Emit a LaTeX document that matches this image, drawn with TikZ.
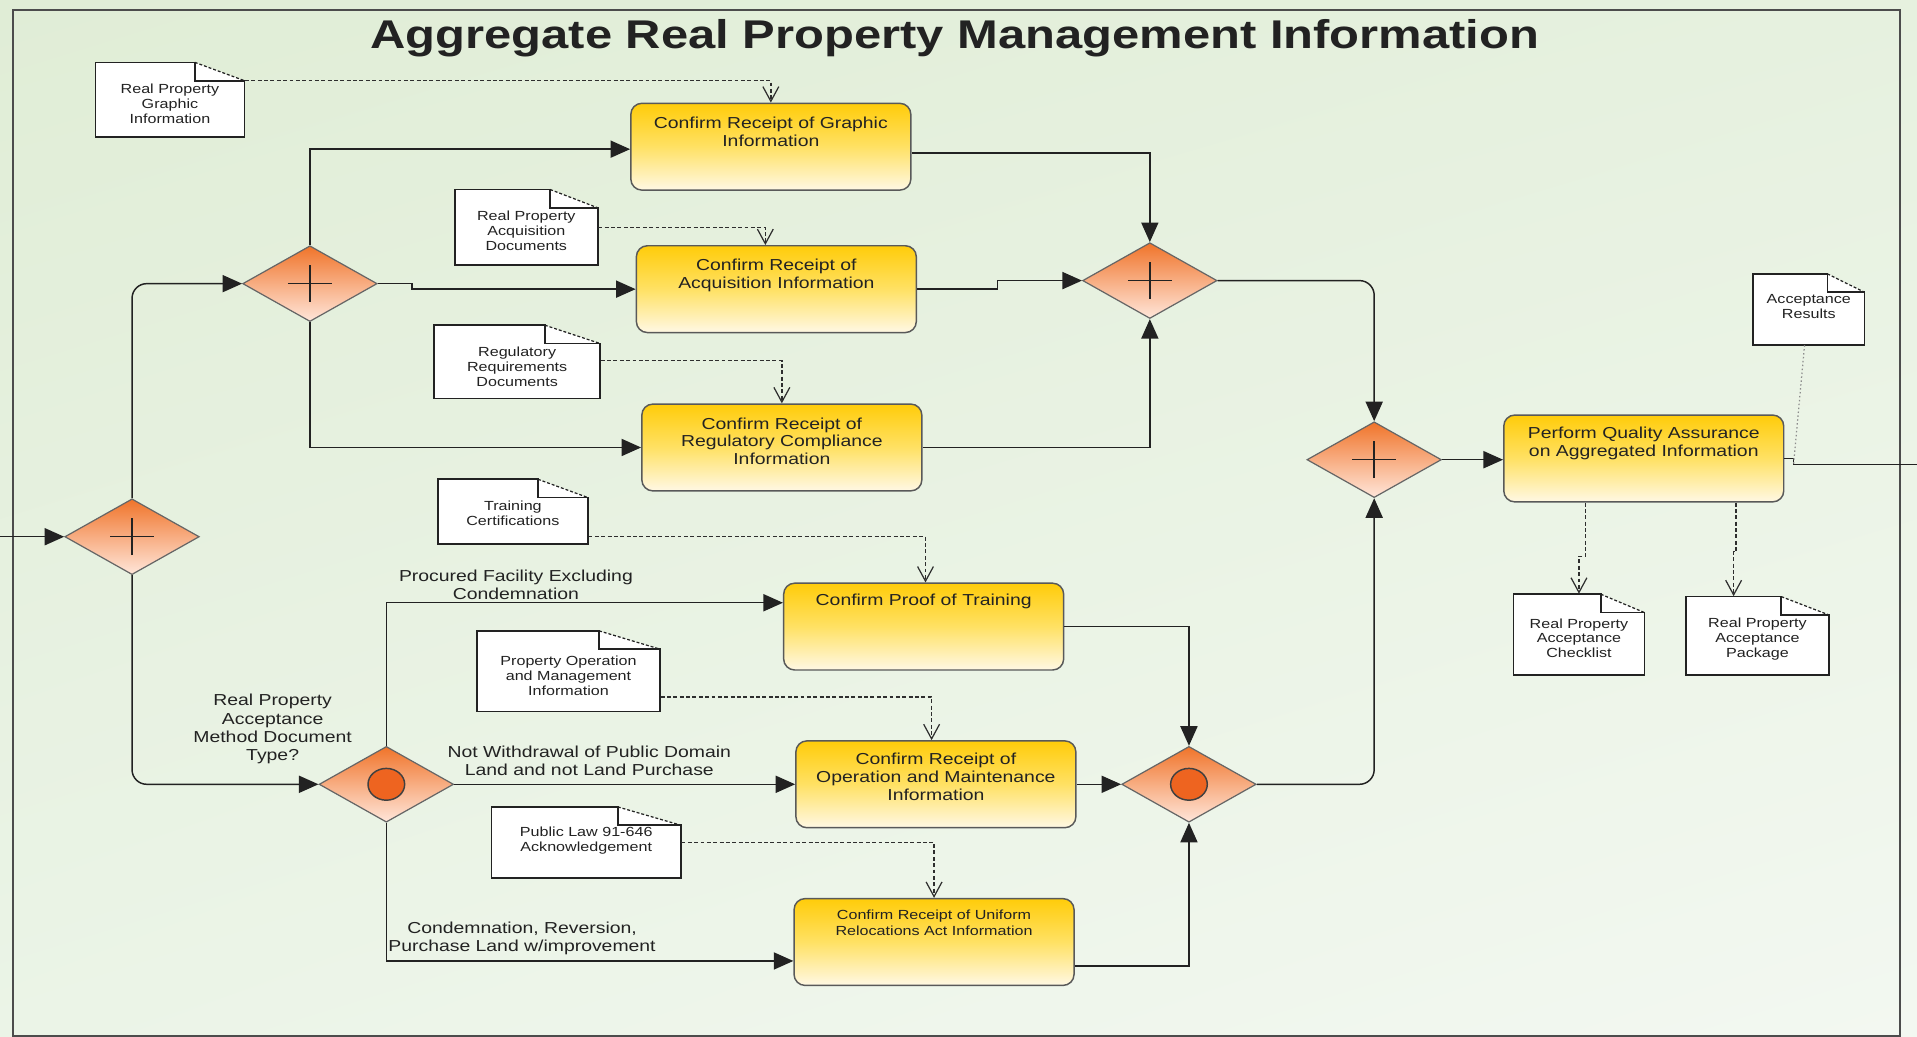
\documentclass[tikz,border=0pt]{standalone}
\usepackage{fontspec}
\setmainfont{Liberation Sans}[FakeStretch=1.22]
\usetikzlibrary{arrows.meta,shapes.geometric,calc,shadings}

\definecolor{bgA}{HTML}{E0EDD6}
\definecolor{bgB}{HTML}{E6F1DF}
\definecolor{bgC}{HTML}{EBF4E7}
\definecolor{bgD}{HTML}{F3F8F1}
\definecolor{taskTop}{HTML}{FFCC0A}
\definecolor{taskMid}{HTML}{FFE164}
\definecolor{taskBot}{HTML}{FFF8E4}
\definecolor{gateTop}{HTML}{F0742A}
\definecolor{gateBot}{HTML}{FFE6DA}
\definecolor{circFill}{HTML}{EE6420}
\definecolor{inkDark}{HTML}{222222}

% document symbol with folded top-right corner:
% #1 name, #2 x1, #3 y1, #4 x2, #5 y2, #6 text shift, #7 text
\newcommand\docnode[7]{%
  \pgfmathsetmacro\dfx{#4-(#4-#2)/3}%
  \pgfmathsetmacro\dfy{#3+15}%
  \fill[white] (#2,#3) -- (\dfx,#3) -- (#4,\dfy) -- (#4,#5) -- (#2,#5) -- cycle;
  \draw[docedge] (\dfx,#3) -- (#2,#3) -- (#2,#5) -- (#4,#5) -- (#4,\dfy) -- (\dfx,\dfy) -- cycle;
  \draw[foldedge] (\dfx,#3) -- (#4,\dfy);
  \node[docbox, minimum width={(#4-#2)*0.5pt}, minimum height={(#5-#3)*0.5pt},
        label={[doctext, yshift=#6]center:{#7}}] (#1) at ({(#2+#4)/2},{(#3+#5)/2}) {};
}

\begin{document}
\begin{tikzpicture}[x=0.5pt,y=-0.5pt,
  flow/.style={draw=inkDark, line width=0.6pt, -{Triangle[length=8pt,width=7pt]}},
  plain/.style={draw=inkDark, line width=0.6pt},
  assoc/.style={draw=black!82, line width=0.6pt, dash pattern=on 1.6pt off 1pt,
     -{Straight Barb[length=6pt,width=6.5pt,line width=0.5pt]}},
  task/.style={rectangle, rounded corners=4.5pt, draw=black!65, line width=0.6pt,
     top color=taskTop, bottom color=taskBot, middle color=taskMid,
     minimum width=114.5pt, minimum height=35.5pt, inner sep=0pt},
  tasklbl/.style={anchor=north, yshift=-5.6pt, inner sep=0pt, align=center,
     font=\fontsize{6.5}{7.3}\selectfont, text=inkDark},
  gate/.style={diamond, aspect=1.77, draw=black!60, line width=0.5pt,
     top color=gateTop, bottom color=gateBot,
     minimum width=55pt, minimum height=31pt, inner sep=0pt},
  plusgate/.style={gate, path picture={
     \draw[line width=0.6pt, inkDark]
       ([xshift=-9pt]path picture bounding box.center) -- ([xshift=9pt]path picture bounding box.center)
       ([yshift=-7.5pt]path picture bounding box.center) -- ([yshift=7.5pt]path picture bounding box.center);}},
  circgate/.style={gate, path picture={
     \draw[line width=0.6pt, draw=black!75, fill=circFill]
       (path picture bounding box.center) ellipse [x radius=7.5pt, y radius=6.5pt];}},
  docedge/.style={draw=inkDark, line width=0.7pt},
  foldedge/.style={draw=inkDark, line width=0.5pt, dash pattern=on 1.2pt off 0.8pt},
  docbox/.style={rectangle, draw=none, inner sep=0pt},
  doctext/.style={anchor=center, inner sep=0pt, align=center,
     font=\fontsize{5.4}{6.1}\selectfont, text=inkDark},
  elabel/.style={inner sep=0pt, align=center, font=\fontsize{6.5}{7.5}\selectfont, text=inkDark}
]
\useasboundingbox (0,0) rectangle (1568,848);

% background and frame
\shade[upper left=bgA, upper right=bgB, lower left=bgC, lower right=bgD] (0,0) rectangle (1568,848);
\draw[draw=black!70, line width=0.8pt] (11,8) rectangle (1554,847);

\node[inner sep=0pt, text=inkDark, font=\fontsize{16.4}{18}\selectfont\bfseries] (title) at (781,31)
  {Aggregate Real Property Management Information};

% data objects
\docnode{d1}{78}{51}{200}{112}{-1.75pt}{Real Property\\Graphic\\Information}
\docnode{d2}{372}{155}{489}{217}{-1.5pt}{Real Property\\Acquisition\\Documents}
\docnode{d3}{355}{266}{491}{326}{-2pt}{Regulatory\\Requirements\\Documents}
\docnode{d4}{358}{392}{481}{445}{-0.5pt}{Training\\Certifications}
\docnode{d5}{390}{516}{540}{582}{-2pt}{Property Operation\\and Management\\Information}
\docnode{d6}{402}{660}{557}{718}{0.75pt}{Public Law 91-646\\Acknowledgement}
\docnode{ar}{1434}{224}{1525}{282}{1.25pt}{Acceptance\\Results}
\docnode{dc}{1238}{486}{1345}{552}{-1.5pt}{Real Property\\Acceptance\\Checklist}
\docnode{dp}{1379}{488}{1496}{552}{-1.5pt}{Real Property\\Acceptance\\Package}

% tasks
\node[task, label={[tasklbl]north:{Confirm Receipt of Graphic\\Information}}] (t1) at (630.5,120) {};
\node[task, label={[tasklbl]north:{Confirm Receipt of\\Acquisition Information}}] (t2) at (635,236.5) {};
\node[task, label={[tasklbl]north:{Confirm Receipt of\\Regulatory Compliance\\Information}}] (t3) at (639.5,366) {};
\node[task, label={[tasklbl, yshift=1pt]north:{Confirm Proof of Training}}] (t4) at (755.5,512.5) {};
\node[task, label={[tasklbl, yshift=0.5pt]north:{Confirm Receipt of\\Operation and Maintenance\\Information}}] (t5) at (765.5,641.5) {};
\node[task, label={[tasklbl, yshift=1pt, font=\fontsize{5.4}{6.5}\selectfont]north:{Confirm Receipt of Uniform\\Relocations Act Information}}] (t6) at (764,770.5) {};
\node[task, label={[tasklbl, yshift=0.5pt]north:{Perform Quality Assurance\\on Aggregated Information}}] (tq) at (1344.5,375) {};

% gateways
\node[plusgate] (g0) at (108,439) {};
\node[plusgate] (g1) at (253.5,232) {};
\node[plusgate] (g2) at (940.5,229.5) {};
\node[plusgate] (g3) at (1124,376) {};
\node[circgate] (g4) at (316,641.5) {};
\node[circgate] (g5) at (972.5,641.5) {};

% condition labels
\node[elabel] (lb1) at (422,478.5) {Procured Facility Excluding\\Condemnation};
\node[elabel] (lb2) at (482,622.5) {Not Withdrawal of Public Domain\\Land and not Land Purchase};
\node[elabel] (lb3) at (427,767.5) {Condemnation, Reversion,\\Purchase Land w/improvement};
\node[elabel] (lb4) at (223,596.5) {Real Property\\Acceptance\\Method Document\\Type?};

% sequence flows
\coordinate (entry) at (0,439);
\draw[flow] (entry) -- (g0.west);
\draw[flow, rounded corners=6pt] (g0.north) |- (g1.west);
\draw[flow, rounded corners=6pt] (g0.south) |- (g4.west);

\draw[flow] (g1.north) |- ([yshift=-1pt]t1.west);
\draw[flow] (g1.east) -- ++(14pt,0) |- (t2.west);
\draw[flow] (g1.south) |- (t3.west);

\draw[flow] ([yshift=-2.5pt]t1.east) -| (g2.north);
\draw[flow] (t2.east) -- ++(33pt,0) |- (g2.west);
\draw[flow] (t3.east) -| (g2.south);
\draw[flow, rounded corners=6pt] (g2.east) -| (g3.north);

\draw[flow] (g4.north) |- ([yshift=9.75pt]t4.west);
\draw[flow] (g4.east) -- (t5.west);
\draw[flow] (g4.south) |- ([yshift=-7.75pt]t6.west);

\draw[flow] (t4.east) -| (g5.north);
\draw[flow] (t5.east) -- (g5.west);
\draw[flow] ([yshift=-9.75pt]t6.east) -| (g5.south);
\draw[flow, rounded corners=6pt] (g5.east) -| (g3.south);

\draw[flow] (g3.east) -- (g3.east -| tq.west);

\coordinate (qaout) at (1467,380);
\coordinate (exit) at (1568,380);
\draw[plain] (tq.east) -- (tq.east -| qaout) -- (qaout) -- (exit);

% data associations
\draw[assoc] ([yshift=7.75pt]d1.east) -| (t1.north);
\draw[assoc] (d2.east) -| ([xshift=-4.5pt]t2.north);
\draw[assoc] ([yshift=0.5pt]d3.east) -| (t3.north);
\draw[assoc] ([yshift=-10.25pt]d4.east) -| ([xshift=0.75pt]t4.north);
\draw[assoc] ([yshift=-10.5pt]d5.east) -| ([xshift=-1.75pt]t5.north);
\draw[assoc] (d6.east) -| (t6.north);
\draw[assoc] ([xshift=-23.75pt]tq.south) -- ++(0,-22pt) -| (dc.north);
\draw[assoc] ([xshift=37.75pt]tq.south) -- ++(0,-20pt) -| ([xshift=-9.75pt]dp.north);
\draw[draw=black!45, line width=0.5pt, dash pattern=on 0.6pt off 1pt] ([xshift=-1.75pt]ar.south) -- (qaout);

\end{tikzpicture}
\end{document}
